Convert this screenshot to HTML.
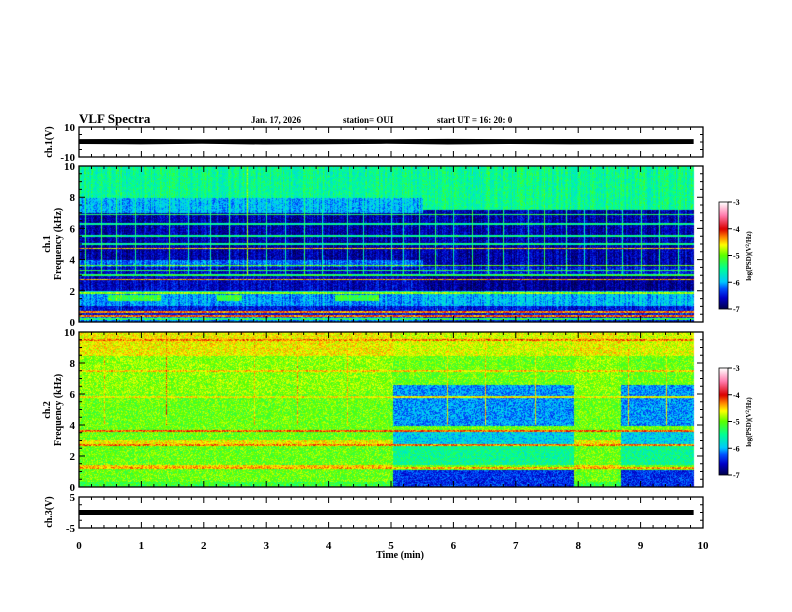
<!DOCTYPE html>
<html><head><meta charset="utf-8"><style>
body{margin:0;background:#fff;width:792px;height:612px;overflow:hidden;position:relative;font-family:"Liberation Serif",serif;font-weight:bold}
svg{position:absolute;left:0;top:0}
canvas{position:absolute}
</style></head><body>
<canvas id="s1" width="625" height="156" style="left:79px;top:166px"></canvas>
<canvas id="s2" width="625" height="155" style="left:79px;top:332px"></canvas>
<canvas id="cb1" width="9" height="107" style="left:719px;top:202px"></canvas>
<canvas id="cb2" width="9" height="107" style="left:719px;top:368px"></canvas>
<svg id="ax" width="792" height="612"></svg>
<script>
// ---- data ----
const timeTicks=[0,1,2,3,4,5,6,7,8,9,10];
const freqTicks=[0,2,4,6,8,10];
const cbTicks=[-3,-4,-5,-6,-7];
const dataEnd=9.85;
// spectrogram 1
const s1SegStart=[0,5.5];
const s1Bands=[[0,0.3,1.0,1.8,2.0,3.5,4.0,7.0,8.0,10],[0,1.0,2.0,3.0,3.5,7.2,10]];
const s1Levels=[[-6.2,-6.5,-6.1,-5.8,-6.6,-6.2,-6.7,-6.0,-5.5],[-6.5,-6.0,-6.8,-6.5,-6.7,-5.5]];
const s1LineFreq=[0.15,0.35,0.6,1.85,2.7,3.0,3.3,3.6,4.7,5.0,5.5,6.3,6.9];
const s1LineLevel=[-5.3,-4.2,-4.3,-4.9,-4.4,-5.3,-5.3,-5.0,-4.5,-5.5,-5.5,-5.5,-5.3];
const s1BlobStart=[0.45,2.2,4.1];
const s1BlobEnd=[1.3,2.6,4.8];
const s1BlobLevel=[-5.2,-5.2,-5.2];
const s1Spikes=[0.1,0.35,0.6,0.9,1.45,1.75,2.1,2.4,2.7,3.0,3.3,3.6,3.9,4.3,4.55,5.0,5.2,5.45,5.7,6.0,6.3,6.55,6.8,7.2,7.45,7.8,8.1,8.45,8.7,9.0,9.3,9.6];
const s1SpikeLevel=[-5.5,-5.3,-5.6,-5.5,-5.1,-5.5,-5.6,-5.3,-5.1,-5.5,-5.6,-5.5,-5.6,-5.5,-5.6,-5.5,-5.6,-5.5,-5.5,-5.6,-5.5,-5.6,-5.5,-5.5,-5.2,-5.5,-5.6,-5.5,-5.6,-5.5,-5.6,-5.5];
// spectrogram 2
const s2SegStart=[0,5.03,7.92,8.67];
const s2SegType=[0,1,0,1];
const s2Bands=[[0,0.3,1.2,1.4,2.7,3.0,6.0,8.5,10],[0,1.1,1.4,2.7,3.6,3.9,6.6,8.5,10]];
const s2Levels=[[-5.2,-5.0,-4.5,-5.0,-4.6,-5.0,-4.9,-4.6],[-6.4,-5.0,-5.5,-5.9,-5.0,-6.1,-5.0,-4.7]];
const s2LineFreq=[1.2,2.7,3.6,5.8,7.5,9.5];
const s2LineLevel=[-4.4,-4.3,-4.2,-4.6,-4.5,-4.3];
const s2Spikes=[0.4,1.4,2.8,3.5,4.3,5.9,6.5,7.3,8.8,9.4];
const s2SpikeLevel=[-4.5,-4.3,-4.5,-4.4,-4.5,-4.6,-4.5,-4.6,-4.5,-4.6];
// waveforms
const ch1Env=[1.6,1.8,1.5,1.8,1.7,1.5,1.9,1.6,1.8,1.7,1.6];
const ch1Center=[0.3,0.2,0.3,0.1,0.2,0.3,0.2,0.3,0.2,0.2,0.3];
const ch3Level=[0];

// ---- scales ----
const X0=79,X1=703;
const xs=t=>X0+(X1-X0)*t/10;
const cmStops=[[-7,0,0,80],[-6.6,0,0,200],[-6.25,0,80,255],[-6,0,200,255],[-5.5,0,255,150],[-5,90,255,0],[-4.6,255,255,0],[-4.3,255,130,0],[-4,220,0,0],[-3.5,255,120,170],[-3,255,255,255]];
function cmap(v){
  if(v<=-7)return cmStops[0].slice(1);if(v>=-3)return [255,255,255];
  for(let i=0;i<cmStops.length-1;i++){const a=cmStops[i],b=cmStops[i+1];if(v<=b[0]){const f=(v-a[0])/(b[0]-a[0]);return [a[1]+(b[1]-a[1])*f,a[2]+(b[2]-a[2])*f,a[3]+(b[3]-a[3])*f];}}
}
function hash(i,j){let h=(i*374761393+j*668265263)|0;h=(h^(h>>>13))*1274126177|0;return ((h^(h>>>16))>>>0)/4294967296;}
function band(edges,levels,f){for(let k=0;k<levels.length;k++)if(f<edges[k+1])return levels[k];return levels[levels.length-1];}
function draw(id,H,fn){
  const c=document.getElementById(id),ctx=c.getContext('2d'),W=c.width;
  const img=ctx.createImageData(W,H);
  for(let i=0;i<W;i++){const t=i/(X1-X0)*10;
    for(let j=0;j<H;j++){const f=10-j/(H-1)*10;let r,g,b;
      if(t>dataEnd){r=g=b=255;}else{[r,g,b]=cmap(fn(t,f,i,j));}
      const p=(j*W+i)*4;img.data[p]=r;img.data[p+1]=g;img.data[p+2]=b;img.data[p+3]=255;}}
  ctx.putImageData(img,0,0);
}
function segIdx(starts,t){let s=0;for(let k=0;k<starts.length;k++)if(t>=starts[k])s=k;return s;}
draw('s1',156,(t,f,i,j)=>{
  const s=segIdx(s1SegStart,t);let v=band(s1Bands[s],s1Levels[s],f);
  for(let k=0;k<s1BlobStart.length;k++)if(t>=s1BlobStart[k]&&t<=s1BlobEnd[k]&&f>1.3&&f<1.7)v=Math.max(v,s1BlobLevel[k]);
  for(let k=0;k<s1LineFreq.length;k++)if(Math.abs(f-s1LineFreq[k])<0.05)v=Math.max(v,s1LineLevel[k]);
  for(let k=0;k<s1Spikes.length;k++)if(Math.abs(t-s1Spikes[k])<0.008&&f>3)v=Math.max(v,s1SpikeLevel[k]);
  return v+(hash(i,j)-0.5)*0.5+(hash(i,7)-0.5)*0.4;
});
draw('s2',155,(t,f,i,j)=>{
  const s=segIdx(s2SegStart,t),ty=s2SegType[s];let v=band(s2Bands[ty],s2Levels[ty],f);
  for(let k=0;k<s2LineFreq.length;k++)if(Math.abs(f-s2LineFreq[k])<0.05)v=Math.max(v,s2LineLevel[k]);
  for(let k=0;k<s2Spikes.length;k++)if(Math.abs(t-s2Spikes[k])<0.008&&f>4)v=Math.max(v,s2SpikeLevel[k]);
  return v+(hash(i,j)-0.5)*0.6;
});
['cb1','cb2'].forEach(id=>{const c=document.getElementById(id),ctx=c.getContext('2d');
  for(let j=0;j<c.height;j++){const v=-3-4*j/(c.height-1);const [r,g,b]=cmap(v);ctx.fillStyle=`rgb(${r|0},${g|0},${b|0})`;ctx.fillRect(0,j,c.width,1);}});

// ---- svg axes ----
const svg=document.getElementById('ax');const NS='http://www.w3.org/2000/svg';
function el(tag,attrs,txt){const e=document.createElementNS(NS,tag);for(const k in attrs)e.setAttribute(k,attrs[k]);if(txt!==undefined)e.textContent=txt;svg.appendChild(e);return e;}
function txt(x,y,s,size,name,anchor,rot){const e=el('text',{x:x,y:y,'font-size':size,'font-family':'Liberation Serif, serif','font-weight':'bold','text-anchor':anchor||'start'},s);
  if(rot)e.setAttribute('transform',`rotate(-90 ${x} ${y})`);
  
  return e;}
const panels=[{y0:127,y1:157,min:-10,max:10,yt:[-10,10],minor:5,name:'ch1'},{y0:166,y1:322,min:0,max:10,yt:freqTicks,minor:0.5,name:'spec1'},{y0:332,y1:487,min:0,max:10,yt:freqTicks,minor:0.5,name:'spec2'},{y0:497,y1:528,min:-5,max:5,yt:[-5,5],minor:2.5,name:'ch3'}];
panels.forEach(p=>{
  const r=el('rect',{x:X0,y:p.y0,width:X1-X0,height:p.y1-p.y0,fill:'none',stroke:'#000','stroke-width':1.3});
  
  
  const ys=v=>p.y1-(v-p.min)/(p.max-p.min)*(p.y1-p.y0);
  let d='';
  for(let k=0;k<=50;k++){const x=xs(k/5),L=k%5==0?6:3;d+=`M${x},${p.y0}v${L}M${x},${p.y1}v${-L}`;}
  for(let v=p.min;v<=p.max+1e-9;v+=p.minor){const y=ys(v),maj=p.yt.some(q=>Math.abs(q-v)<1e-6),L=maj?6:3;d+=`M${X0},${y}h${L}M${X1},${y}h${-L}`;}
  const tk=el('path',{d:d,stroke:'#000','stroke-width':1,fill:'none'});
  
  
  p.yt.forEach(v=>txt(X0-4,ys(v)+4,String(v),11,p.name+'-ytick-label','end'));
  p.ys=ys;
});
(function(){const p=panels[0];let top='',bot='';const n=ch1Env.length;
  for(let k=0;k<n;k++){const t=dataEnd*k/(n-1);top+=`${k?'L':'M'}${xs(t)},${p.ys(ch1Center[k]+ch1Env[k])}`;}
  for(let k=n-1;k>=0;k--){const t=dataEnd*k/(n-1);bot+=`L${xs(t)},${p.ys(ch1Center[k]-ch1Env[k])}`;}
  const w=el('path',{d:top+bot+'Z',fill:'#000'});
  
  })();
(function(){const p=panels[3];const w=el('rect',{x:X0,y:p.ys(ch3Level[0])-2.5,width:xs(dataEnd)-X0,height:5,fill:'#000'});
  
  })();
timeTicks.forEach(t=>txt(xs(t),549,String(t),11,'x-tick-label','middle'));
txt(400,558,'Time  (min)',10,'x-axis-title','middle');
txt(52,142,'ch.1(V)',10,'ch1-y-title','middle',true);
txt(50,244,'ch.1',10,'spec1-y-title','middle',true);
txt(61,244,'Frequency (kHz)',10,'spec1-y-title-2','middle',true);
txt(50,410,'ch.2',10,'spec2-y-title','middle',true);
txt(61,410,'Frequency (kHz)',10,'spec2-y-title-2','middle',true);
txt(52,512,'ch.3(V)',10,'ch3-y-title','middle',true);
txt(79,123,'VLF Spectra',13,'chart-title');
txt(251,123,'Jan. 17, 2026',9,'date-label');
txt(343,123,'station= OUI',9,'station-label');
txt(437,123,'start  UT =   16: 20: 0',9,'start-time-label');
[202,368].forEach((y0,ci)=>{
  const fr=el('rect',{x:719,y:y0,width:9,height:107,fill:'none',stroke:'#000','stroke-width':0.8});
  
  
  cbTicks.forEach(v=>{const y=y0+(-3-v)/4*107;
    const l=el('path',{d:`M728,${y}h4`,stroke:'#000'});
    
    
    txt(733,y+3,String(v),8,'colorbar-tick-label');});
  const t=el('text',{x:751,y:y0+54,'font-size':7,'font-family':'Liberation Serif, serif','font-weight':'bold','text-anchor':'middle',transform:`rotate(-90 751 ${y0+54})`});
  t.innerHTML='log(PSD)(V<tspan baseline-shift="super" font-size="5">2</tspan>/Hz)';
  
  
});
</script>
</body></html>
